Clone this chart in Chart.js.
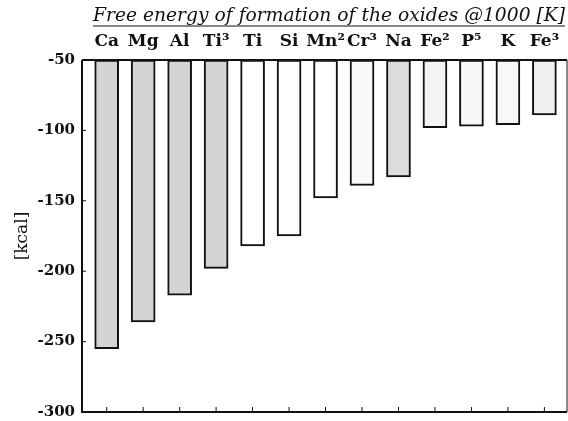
<!DOCTYPE html>
<html>
<head>
<meta charset="utf-8">
<script src="https://cdn.jsdelivr.net/npm/chart.js@4"></script>
<style>
  html, body { margin: 0; padding: 0; background: #fff; }
  #wrap { width: 568px; height: 421px; }
</style>
</head>
<body>
<div id="wrap"><canvas id="oxides"></canvas></div>
<script>
// datos
const elements = ['Ca', 'Mg', 'Al', 'Ti³', 'Ti', 'Si', 'Mn²', 'Cr³', 'Na', 'Fe²', 'P⁵', 'K', 'Fe³'];
const energies = [-255, -236, -217, -198, -182, -175, -148, -139, -133, -98, -97, -96, -89];
const shades = ['#d4d4d4', '#d4d4d4', '#d4d4d4', '#d4d4d4', '#ffffff', '#ffffff', '#ffffff', '#fafafa',
                '#dcdcdc', '#f3f3f3', '#f7f7f7', '#f8f8f8', '#f0f0f0'];
const yTicks = [-300, -250, -200, -150, -100, -50];
const chartTitle = 'Free energy of formation of the oxides @1000 [K]';

const xMin = -0.677, xMax = 12.62;

const framePlugin = {
  id: 'frame',
  afterDraw(chart) {
    const ctx = chart.ctx;
    const a = chart.chartArea;
    const x = chart.scales.x, y = chart.scales.y;
    ctx.save();
    ctx.strokeStyle = '#111';
    // marco
    ctx.lineWidth = 1;
    ctx.beginPath();
    ctx.moveTo(a.right, a.top);
    ctx.lineTo(a.right, a.bottom);
    ctx.stroke();
    ctx.lineWidth = 2;
    ctx.beginPath();
    ctx.moveTo(a.left, a.top);
    ctx.lineTo(a.right, a.top);
    ctx.moveTo(a.left, a.top);
    ctx.lineTo(a.left, a.bottom);
    ctx.lineTo(a.right, a.bottom);
    ctx.stroke();
    // ticks hacia dentro
    ctx.lineWidth = 1;
    ctx.beginPath();
    elements.forEach((e, i) => {
      const px = x.getPixelForValue(i);
      ctx.moveTo(px, a.bottom);
      ctx.lineTo(px, a.bottom - 5);
    });
    yTicks.forEach(v => {
      const py = y.getPixelForValue(v);
      ctx.moveTo(a.left, py);
      ctx.lineTo(a.left + 4, py);
    });
    ctx.stroke();
    // titulo subrayado
    ctx.fillStyle = '#111';
    ctx.font = 'italic 18.7px "DejaVu Serif"';
    ctx.textAlign = 'right';
    ctx.textBaseline = 'alphabetic';
    const tx = 565, ty = 21;
    ctx.fillText(chartTitle, tx, ty);
    const w = ctx.measureText(chartTitle).width;
    ctx.lineWidth = 1.2;
    ctx.beginPath();
    ctx.moveTo(tx - w, ty + 5);
    ctx.lineTo(tx, ty + 5);
    ctx.stroke();
    ctx.restore();
  }
};

new Chart(document.getElementById('oxides'), {
  type: 'bar',
  data: {
    datasets: [{
      data: energies.map((v, i) => ({ x: i, y: v })),
      base: -50,
      backgroundColor: shades,
      borderColor: '#111',
      borderWidth: 2,
      borderSkipped: false,
      barThickness: 24,
      xAxisID: 'x'
    }]
  },
  options: {
    responsive: true,
    maintainAspectRatio: false,
    animation: false,
    layout: { padding: { top: 0, right: 1, left: 0, bottom: 0 } },
    plugins: {
      legend: { display: false },
      tooltip: { enabled: false }
    },
    scales: {
      x: {
        type: 'linear',
        position: 'bottom',
        offset: false,
        min: xMin,
        max: xMax,
        ticks: { display: false },
        grid: { display: false, drawTicks: false },
        border: { display: false },
        afterFit(s) { s.height = 9; }
      },
      xTop: {
        type: 'linear',
        position: 'top',
        offset: false,
        min: xMin,
        max: xMax,
        afterBuildTicks(s) { s.ticks = elements.map((e, i) => ({ value: i })); },
        ticks: {
          autoSkip: false,
          maxRotation: 0,
          padding: 8,
          color: '#111',
          font: { family: 'DejaVu Serif', size: 17, weight: 'bold' },
          callback: (v) => elements[v]
        },
        grid: { display: false, drawTicks: false },
        border: { display: false },
        afterFit(s) { s.height = 60; }
      },
      y: {
        min: -300,
        max: -50,
        afterBuildTicks(s) { s.ticks = yTicks.map(v => ({ value: v })); },
        ticks: {
          padding: 7,
          color: '#111',
          font: { family: 'DejaVu Serif', size: 15, weight: 'bold' }
        },
        grid: { display: false, drawTicks: false },
        border: { display: false },
        title: {
          display: true,
          text: '[kcal]',
          color: '#111',
          padding: { top: 12, bottom: 0 },
          font: { family: 'DejaVu Serif', size: 17 }
        },
        afterFit(s) {
          s.width = 82;
          s.paddingTop = 0;
          s.paddingBottom = 0;
        }
      }
    }
  },
  plugins: [framePlugin]
});
</script>
</body>
</html>
